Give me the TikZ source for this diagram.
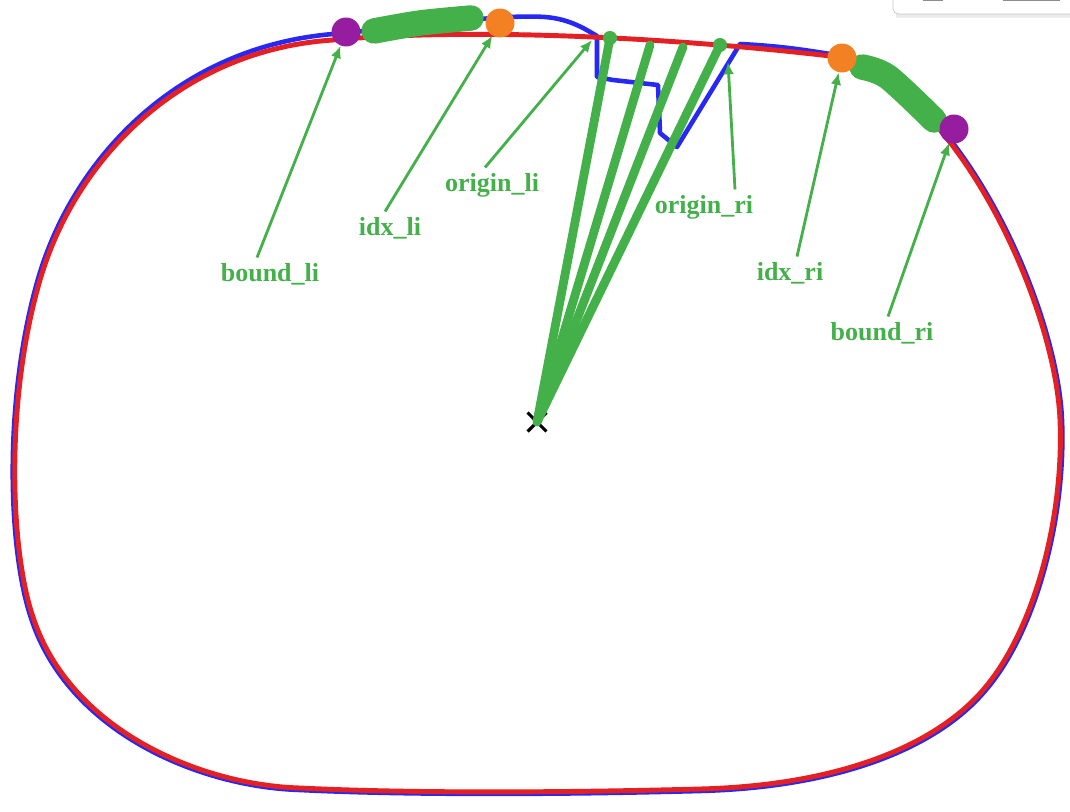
\documentclass[tikz,border=0pt]{standalone}
\usepackage{fontspec}
\setmainfont{Liberation Serif}
\usetikzlibrary{arrows.meta,shapes.misc}

\definecolor{lineblue}{RGB}{40,40,245}
\definecolor{linered}{RGB}{228,32,36}
\definecolor{markgreen}{RGB}{68,176,74}
\definecolor{markpurple}{RGB}{150,28,160}
\definecolor{markorange}{RGB}{244,128,36}

\begin{document}
\begin{tikzpicture}[x=0.02cm, y=-0.02cm]
    \tikzstyle{tag} = [text=markgreen, font=\fontsize{14.8}{16}\selectfont\bfseries, inner sep=3pt]
    \tikzstyle{pointer} = [draw=markgreen, line width=1.6pt, -{Latex[length=7pt,width=6pt]}]
    \tikzstyle{ray} = [draw=markgreen, line width=5pt]
    \tikzstyle{band} = [draw=markgreen, line width=14.5pt, line cap=round]
    \tikzstyle{bigdot} = [circle, inner sep=0pt, minimum size=16.5pt]
    \tikzstyle{smalldot} = [circle, fill=markgreen, inner sep=0pt, minimum size=8pt]

    \useasboundingbox (0,0) rectangle (1070,811);

    % screenshot leftover, top right
    \fill[black!8] (896,-10) rectangle (1075,18);
    \draw[black!22, fill=white, rounded corners=3pt] (893,-10) rectangle (1075,14);
    \fill[black!45] (923,-2) rectangle (943,1);
    \fill[black!45] (1003,-2) rectangle (1060,1);

    % blue contour with the notch
    \draw[lineblue, line width=2.6pt, line join=round]
        (740,44) .. controls (780,46) and (805,50) .. (830,54)
        .. controls (951,73) and (1057,299) .. (1062,420)
        .. controls (1066,516) and (1037,631) .. (985,691)
        .. controls (942,742) and (851,787) .. (700,791)
        .. controls (550,795) and (400,795) .. (300,790)
        .. controls (199,787) and (68,732) .. (31,618)
        .. controls (8,550) and (3,400) .. (38,279)
        .. controls (73,158) and (178,47) .. (333,34)
        .. controls (420,26) and (500,14) .. (545,17)
        .. controls (570,19) and (585,29) .. (597,36)
        -- (597,77) -- (613,80) -- (658,85) -- (660,133) -- (677,147) -- cycle;

    % red contour
    \draw[linered, line width=2.8pt]
        (333,40) .. controls (500,25) and (720,43) .. (830,56)
        .. controls (950,75) and (1055,300) .. (1060,420)
        .. controls (1064,516) and (1035,630) .. (983,690)
        .. controls (940,740) and (850,785) .. (700,789)
        .. controls (550,793) and (400,793) .. (300,788)
        .. controls (200,785) and (70,730) .. (33,617)
        .. controls (10,550) and (5,400) .. (40,280)
        .. controls (75,160) and (180,50) .. cycle;

    % centre and rays
    \node[draw=black, cross out, line width=1.8pt, minimum size=9pt, inner sep=0pt] (ctr) at (537,422) {};
    \node[smalldot] (oli) at (610,38) {};
    \node[smalldot] (ori) at (720,45) {};
    \coordinate (r2) at (650,45);
    \coordinate (r3) at (683,47);
    \draw[ray] (ctr.center) -- (oli.center);
    \draw[ray, line cap=round] (ctr.center) -- (r2);
    \draw[ray, line cap=round] (ctr.center) -- (r3);
    \draw[ray] (ctr.center) -- (ori.center);

    % selected stretches
    \draw[band] plot[smooth] coordinates {(374,31) (420,23) (471,18)};
    \draw[band] plot[smooth] coordinates {(862,67) (888,77) (934,120)};

    \node[bigdot, fill=markpurple] (bli) at (346,32) {};
    \node[bigdot, fill=markorange] (ili) at (500,23) {};
    \node[bigdot, fill=markorange] (iri) at (842,58) {};
    \node[bigdot, fill=markpurple] (bri) at (954,129) {};

    % labels
    \node[tag] (bli_t) at (270,274) {bound\_li};
    \node[tag] (ili_t) at (390,228) {idx\_li};
    \node[tag] (oli_t) at (492,185) {origin\_li};
    \node[tag] (ori_t) at (704,207) {origin\_ri};
    \node[tag] (iri_t) at (790,273) {idx\_ri};
    \node[tag] (bri_t) at (882,333) {bound\_ri};

    \coordinate (oli_tip) at (592,40);
    \coordinate (ori_tip) at (728,62);

    \draw[pointer] ([xshift=-0.26cm]bli_t.north) -- (bli);
    \draw[pointer] ([xshift=-0.1cm]ili_t.north) -- (ili);
    \draw[pointer] ([xshift=-0.14cm]oli_t.north) -- (oli_tip);
    \draw[pointer] ([xshift=0.62cm]ori_t.north) -- (ori_tip);
    \draw[pointer] ([xshift=0.14cm]iri_t.north) -- (iri);
    \draw[pointer] ([xshift=0.12cm]bri_t.north) -- (bri);
\end{tikzpicture}
\end{document}
